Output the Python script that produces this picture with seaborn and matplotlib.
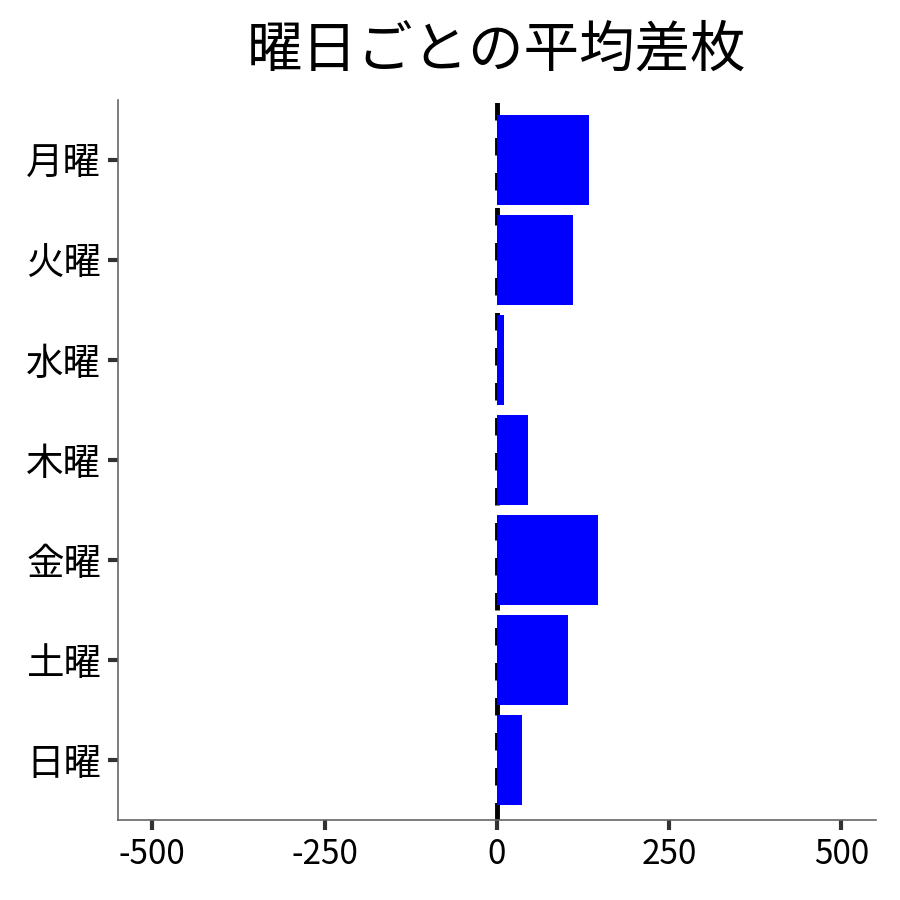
import numpy as np
import pandas as pd
import matplotlib
matplotlib.use("Agg")
import matplotlib.pyplot as plt
import seaborn as sns

# data
days = ["月曜", "火曜", "水曜", "木曜", "金曜", "土曜", "日曜"]
avg_diff = [134, 110, 11, 46, 147, 104, 36]
x_ticks = [-500, -250, 0, 250, 500]

sns.set_style("white")
plt.rcParams["font.family"] = ["Noto Sans CJK JP", "DejaVu Sans"]

df = pd.DataFrame({"day": days, "diff": avg_diff})

fig = plt.figure(figsize=(9, 9), dpi=100)
ax = fig.add_axes([0.131, 0.089, 0.842, 0.8])

ax.axvline(0, color="black", lw=3.5, linestyle=(0, (3.6, 3.6)), zorder=1)
sns.barplot(data=df, x="diff", y="day", orient="h", color="blue",
            saturation=1, width=0.9, linewidth=0, ax=ax, zorder=2)

ax.set_xlim(-550, 550)
ax.set_ylim(6.6, -0.6)
ax.set_xticks(x_ticks)
ax.set_xticklabels([str(t) for t in x_ticks])
ax.set_xlabel("")
ax.set_ylabel("")
ax.set_title("曜日ごとの平均差枚", fontsize=40, pad=24, color="black")

ax.tick_params(axis="both", length=7, width=3, color="#333333",
               labelcolor="black", pad=5, left=True, bottom=True)
ax.tick_params(axis="y", labelsize=27)
ax.tick_params(axis="x", labelsize=24)
sns.despine(ax=ax)
for s in ["left", "bottom"]:
    ax.spines[s].set_color("#666666")
    ax.spines[s].set_linewidth(1.2)

fig.savefig("out.png", dpi=100)
